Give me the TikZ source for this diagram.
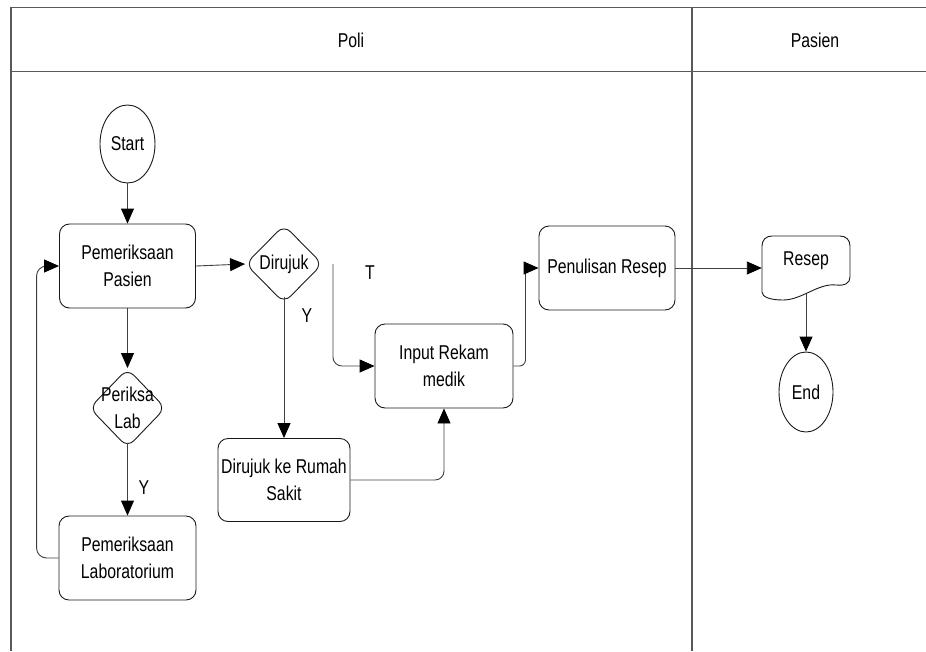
\documentclass[tikz,border=0pt]{standalone}
\usepackage{fontspec}
\setmainfont{Liberation Sans}[FakeStretch=0.79]
\usetikzlibrary{shapes.geometric,arrows.meta}
\begin{document}
\begin{tikzpicture}[x=1pt,y=-1pt,
  every node/.style={font=\fontsize{20}{26.5}\selectfont, inner sep=0pt},
  frame/.style={draw=black!65, line width=1.4pt},
  boxnode/.style={draw=black!90, line width=0.9pt, rounded corners=10pt, align=center},
  decnode/.style={draw=black!90, line width=0.9pt, diamond, rounded corners=9pt},
  termnode/.style={draw=black!90, line width=0.9pt, ellipse},
  conn/.style={draw=black!75, line width=0.9pt, -{Triangle[length=15pt,width=13pt,color=black]}},
]
\useasboundingbox (0,0) rectangle (926,651);
% swimlane frame
\draw[frame] (926,7.5) -- (11,7.5) -- (11,651);
\draw[frame] (11,71.5) -- (926,71.5);
\draw[frame] (692,7.5) -- (692,651);
\node (hpoli) at (351,40) {Poli};
\node (hpasien) at (815,40) {Pasien};

% nodes
\node[termnode, minimum width=55pt, minimum height=78pt] (start) at (127.5,144) {Start};
\node[boxnode, minimum width=136pt, minimum height=84pt] (pp) at (127.5,266) {Pemeriksaan\\Pasien};
\node[decnode, minimum width=76pt, minimum height=79pt,
      label={[align=center,font=\fontsize{20}{27}\selectfont]center:{Periksa\\Lab}}] (pl) at (127.5,408) {};
\node[boxnode, minimum width=137pt, minimum height=84pt] (lab) at (127.5,558) {Pemeriksaan\\Laboratorium};
\node[decnode, minimum width=77pt, minimum height=78pt,
      label={[font=\fontsize{20}{26.5}\selectfont]center:Dirujuk}] (dir) at (284,264) {};
\node[boxnode, minimum width=132pt, minimum height=83pt] (dks) at (284,480) {Dirujuk ke Rumah\\Sakit};
\node[boxnode, minimum width=138pt, minimum height=84pt] (inp) at (444,366) {Input Rekam\\medik};
\node[boxnode, minimum width=136pt, minimum height=84pt] (pen) at (607,268) {Penulisan Resep};

% document shape Resep
\draw[draw=black!90, line width=0.9pt] (762,292) -- (762,246)
  .. controls (762,240) and (766,236) .. (772,236) -- (840,236)
  .. controls (846,236) and (850,240) .. (850,246) -- (850,277)
  .. controls (850,283) and (845,286) .. (836,285)
  .. controls (818,283) and (802,300) .. (783,300)
  .. controls (770,300) and (762,297) .. (762,292) -- cycle;
\node[minimum width=88pt, minimum height=58pt, anchor=center] (resep) at (806,265) {};
\node (reseptext) at (806,261) {Resep};
\node[termnode, minimum width=54pt, minimum height=80pt] (end) at (806,392) {End};

% connectors
\draw[conn] (start.south) -- (pp.north);
\draw[conn] (pp.east) -- (dir.west);
\draw[conn, rounded corners=9pt] ([xshift=10pt]dir.east) |- (inp.west);
\draw[conn] ([yshift=6pt]dir.south) -- (dks.north);
\draw[conn, rounded corners=9pt] (dks.east) -| (inp.south);
\draw[conn, rounded corners=6pt] (inp.east) -- ++(12pt,0) |- (pen.west);
\draw[conn] (pen.east) -- (pen.east -| resep.west);
\draw[conn] (resep.south) -- (end.north);
\draw[conn] (pp.south) -- (pl.north);
\draw[conn] ([yshift=5pt]pl.south) -- (lab.north);
\draw[conn, rounded corners=10pt] (lab.west) -- ++(-22pt,0) |- (pp.west);

% branch labels
\node (lt) at (370,273) {T};
\node (ly1) at (307,316) {Y};
\node (ly2) at (144,488) {Y};
\end{tikzpicture}
\end{document}
